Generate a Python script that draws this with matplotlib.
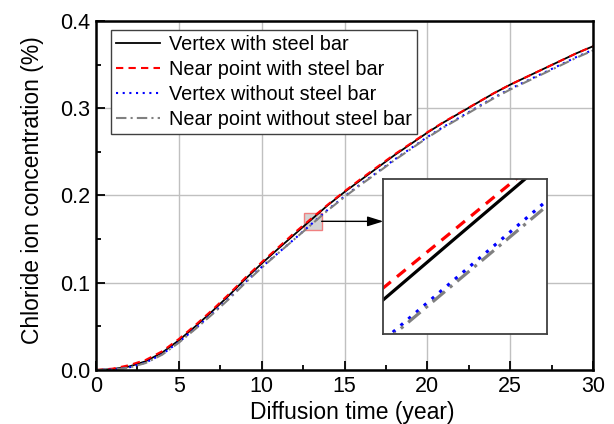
import matplotlib
matplotlib.use("Agg")
import matplotlib.pyplot as plt
from matplotlib.patches import Rectangle, ConnectionPatch

plt.rcParams['font.family'] = ['Liberation Sans', 'DejaVu Sans']

years = list(range(0, 31))
vertex_steel = [0.000, 0.001, 0.004, 0.010, 0.020, 0.034, 0.050, 0.067, 0.085, 0.104,
                0.122, 0.139, 0.1557, 0.1724, 0.1890, 0.2040, 0.2180, 0.232, 0.246, 0.259,
                0.272, 0.284, 0.295, 0.306, 0.317, 0.327, 0.336, 0.345, 0.354, 0.363, 0.371]
near_steel = [0.000, 0.0015, 0.0055, 0.0115, 0.0215, 0.0355, 0.0515, 0.0685, 0.0865, 0.1055,
              0.1235, 0.1405, 0.1576, 0.1736, 0.1897, 0.2048, 0.2192, 0.2331, 0.2469, 0.2597,
              0.2725, 0.2844, 0.2953, 0.3062, 0.3171, 0.3270, 0.3360, 0.3450, 0.3540, 0.3630, 0.3710]
vertex_nosteel = [0.000, 0.0005, 0.0030, 0.0085, 0.0182, 0.0320, 0.0477, 0.0643, 0.0817, 0.1004,
                  0.1180, 0.1342, 0.1505, 0.1672, 0.1839, 0.1990, 0.2134, 0.2270, 0.2410, 0.2540,
                  0.2670, 0.2790, 0.2900, 0.3010, 0.3121, 0.3222, 0.3313, 0.3404, 0.3495, 0.3587, 0.3670]
near_nosteel = [0.000, 0.0004, 0.0027, 0.0080, 0.0176, 0.0313, 0.0470, 0.0635, 0.0809, 0.0996,
                0.1172, 0.1339, 0.1503, 0.1667, 0.1831, 0.1983, 0.2126, 0.2262, 0.2402, 0.2532,
                0.2662, 0.2782, 0.2892, 0.3002, 0.3113, 0.3214, 0.3305, 0.3396, 0.3487, 0.3579, 0.3662]

labels = ["Vertex with steel bar", "Near point with steel bar",
          "Vertex without steel bar", "Near point without steel bar"]
series = [vertex_steel, near_steel, vertex_nosteel, near_nosteel]
colors = ["black", "#ff0000", "#0000ff", "#808080"]
styles = ["-", (0, (3.5, 2.5)), (0, (1, 2.2)), (0, (5, 2, 1, 2))]
widths = [1.3, 1.5, 1.5, 1.5]

zoom_x = (12.55, 13.62)
zoom_y = (0.1605, 0.1803)

fig = plt.figure(figsize=(6.14, 4.24), dpi=100)
ax = fig.add_axes([0.1564, 0.1274, 0.8094, 0.8231])

for ys, lab, c, ls, lw in zip(series, labels, colors, styles, widths):
    ax.plot(years, ys, color=c, linestyle=ls, linewidth=lw, label=lab)

ax.set_xlim(0, 30)
ax.set_ylim(0, 0.4)
ax.set_xticks([0, 5, 10, 15, 20, 25, 30])
ax.set_xticks([2.5, 7.5, 12.5, 17.5, 22.5, 27.5], minor=True)
ax.set_yticks([0.0, 0.1, 0.2, 0.3, 0.4])
ax.set_yticks([0.05, 0.15, 0.25, 0.35], minor=True)
ax.set_yticklabels(["0.0", "0.1", "0.2", "0.3", "0.4"])
ax.grid(True, which='major', color='#c0c0c0', linewidth=1.0)
ax.set_axisbelow(True)
ax.tick_params(which='major', direction='in', length=6.5, width=1.3, labelsize=15.5,
               top=False, right=False, pad=4)
ax.tick_params(which='minor', direction='in', length=3.5, width=1.3, top=False, right=False)
for sp in ax.spines.values():
    sp.set_linewidth(1.8)

ax.set_xlabel("Diffusion time (year)", fontsize=16.5, labelpad=3.5)
ax.xaxis.label.set_x(0.515)
ax.set_ylabel("Chloride ion concentration (%)", fontsize=16.5, labelpad=12)
ax.yaxis.label.set_y(0.516)

leg = ax.legend(loc='upper left', bbox_to_anchor=(0.031, 0.974), fontsize=14.3,
                frameon=True, fancybox=False, framealpha=1, edgecolor='#404040',
                handlelength=2.2, handletextpad=0.45, labelspacing=0.3,
                borderpad=0.25, borderaxespad=0)
leg.get_frame().set_linewidth(1.0)

# zoom rectangle
rect = Rectangle((zoom_x[0], zoom_y[0]), zoom_x[1] - zoom_x[0], zoom_y[1] - zoom_y[0],
                 facecolor='#d3d3d3', edgecolor='#f08080', linewidth=1.0, zorder=1.5)
ax.add_patch(rect)

# inset
axins = fig.add_axes([0.6243, 0.2123, 0.2661, 0.3648])
for ys, c, ls in zip(series, colors, styles):
    axins.plot(years, ys, color=c, linestyle=ls, linewidth=2.3)
axins.set_xlim(*zoom_x)
axins.set_ylim(*zoom_y)
axins.set_xticks([])
axins.set_yticks([])
for sp in axins.spines.values():
    sp.set_linewidth(1.3)
    sp.set_edgecolor('#404040')

ymid = 0.5 * (zoom_y[0] + zoom_y[1])
con = ConnectionPatch(xyA=(zoom_x[1], ymid), coordsA=ax.transData,
                      xyB=(0, 0.728), coordsB=axins.transAxes,
                      arrowstyle='-|>,head_length=0.8,head_width=0.25',
                      color='black', linewidth=1.0, mutation_scale=12)
fig.add_artist(con)

fig.savefig("out.png", dpi=100)
